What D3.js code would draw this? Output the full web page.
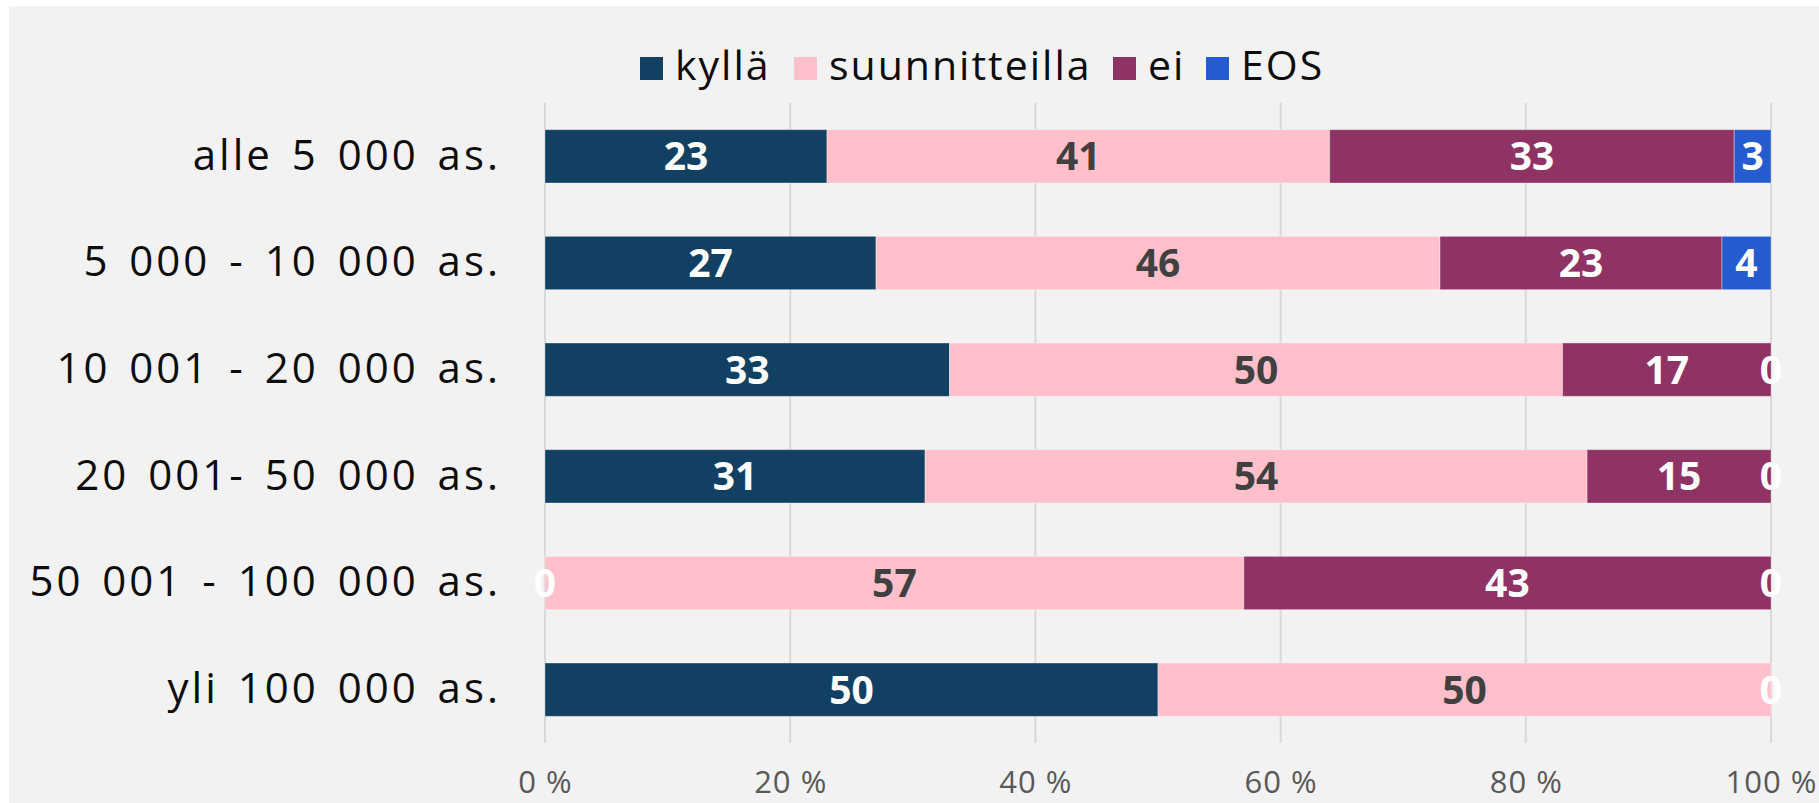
<!DOCTYPE html>
<html>
<head>
<meta charset="utf-8">
<script src="https://cdn.jsdelivr.net/npm/d3@7"></script>
<style>
  body { margin: 0; background: #ffffff; }
  svg { display: block; }
</style>
</head>
<body>
<div id="canvas"></div>
<script>
const width = 1819;
const height = 803;

// data
const categories = ["alle 5 000 as.", "5 000 - 10 000 as.", "10 001 - 20 000 as.", "20 001- 50 000 as.", "50 001 - 100 000 as.", "yli 100 000 as."];
const seriesNames = ["kyllä", "suunnitteilla", "ei", "EOS"];
const kylla = [23, 27, 33, 31, 0, 50];
const suunnitteilla = [41, 46, 50, 54, 57, 50];
const ei = [33, 23, 17, 15, 43, 0];
const eos = [3, 4, 0, 0, 0, 0];
const tickValues = [0, 20, 40, 60, 80, 100];

const colors = ["#114062", "#ffc0cb", "#8f3364", "#245ccf"];
const labelColors = ["#ffffff", "#404040", "#ffffff", "#ffffff"];

const rows = categories.map((c, i) => ({
    cat: c, "kyllä": kylla[i], "suunnitteilla": suunnitteilla[i], "ei": ei[i], "EOS": eos[i]
}));
const stacked = d3.stack().keys(seriesNames)(rows);

const svg = d3.select("#canvas")
    .append("svg")
    .attr("width", width)
    .attr("height", height);

svg.append("rect")
    .attr("x", 9).attr("y", 6)
    .attr("width", width - 9).attr("height", height - 6)
    .attr("fill", "#f2f2f2");

const x = d3.scaleLinear().domain([0, 100]).range([545, 1771]);
const y = d3.scaleBand().domain(categories).range([103, 743]).paddingInner(0.5).paddingOuter(0.25);

// grid
svg.append("g").selectAll("line")
    .data(tickValues)
    .join("line")
    .attr("x1", d => x(d)).attr("x2", d => x(d))
    .attr("y1", 103).attr("y2", 743)
    .attr("stroke", "#d9d9d9")
    .attr("stroke-width", 2);

// x axis labels
const xAxis = d3.axisBottom(x).tickValues(tickValues).tickFormat(d => d + " %").tickSize(0).tickPadding(0);
const gx = svg.append("g").attr("transform", "translate(0,771)").call(xAxis);
gx.select(".domain").remove();
gx.selectAll("text")
    .attr("dy", "0.71em")
    .style("font-family", "'Open Sans', sans-serif")
    .style("font-size", "31px")
    .style("letter-spacing", "1px")
    .attr("fill", "#595959");

// y axis labels
const yAxis = d3.axisLeft(y).tickSize(0).tickPadding(44);
const gy = svg.append("g").attr("transform", "translate(545,0)").call(yAxis);
gy.select(".domain").remove();
gy.selectAll("text")
    .style("font-family", "'Open Sans', sans-serif")
    .style("font-size", "42px")
    .style("letter-spacing", "3px")
    .style("word-spacing", "5px")
    .attr("fill", "#0d0d0d");

// bars
const layers = svg.append("g").selectAll("g")
    .data(stacked)
    .join("g")
    .attr("fill", (d, i) => colors[i]);

layers.selectAll("rect")
    .data(d => d)
    .join("rect")
    .attr("x", d => x(d[0]))
    .attr("width", d => x(d[1]) - x(d[0]))
    .attr("y", d => y(d.data.cat))
    .attr("height", y.bandwidth())
    .attr("stroke", "#ffffff")
    .attr("stroke-opacity", 0.35)
    .attr("stroke-width", 1);

// value labels
const labelLayers = svg.append("g").selectAll("g")
    .data(stacked)
    .join("g")
    .attr("fill", (d, i) => labelColors[i]);

labelLayers.selectAll("text")
    .data(d => d)
    .join("text")
    .attr("x", d => x((d[0] + d[1]) / 2))
    .attr("y", d => y(d.data.cat) + y.bandwidth() / 2)
    .attr("text-anchor", "middle")
    .attr("dy", "0.36em")
    .style("font-family", "'Open Sans', sans-serif")
    .style("font-weight", "bold")
    .style("font-size", "39px")
    .attr("fill", d => (d[1] - d[0]) === 0 ? "#ffffff" : null)
    .text(d => d[1] - d[0]);

// legend
const legendX = [640, 794, 1113, 1206];
const legend = svg.append("g").selectAll("g")
    .data(seriesNames)
    .join("g")
    .attr("transform", (d, i) => `translate(${legendX[i]},57)`);
legend.append("rect")
    .attr("width", 23).attr("height", 23)
    .attr("fill", (d, i) => colors[i]);
legend.append("text")
    .attr("x", 35).attr("y", 23)
    .style("font-family", "'Open Sans', sans-serif")
    .style("font-size", "41px")
    .style("letter-spacing", "2px")
    .attr("fill", "#0d0d0d")
    .text(d => d);
</script>
</body>
</html>
